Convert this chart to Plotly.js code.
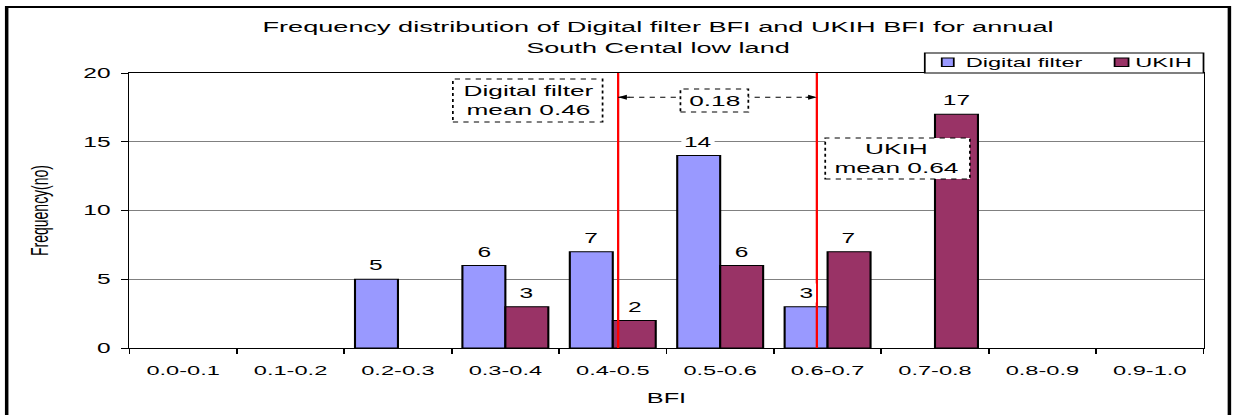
<!DOCTYPE html>
<html><head><meta charset="utf-8">
<script src="https://cdn.plot.ly/plotly-3.0.1.min.js"></script>
<style>
html,body{margin:0;padding:0;background:#fff;overflow:hidden}
#wrap{width:1235px;height:415px;overflow:hidden;position:relative}
#chart{width:706px;height:415px;transform:scaleX(1.74929);transform-origin:0 0}
</style></head><body><div id="wrap"><div id="chart"></div></div>
<script>
// ---- data ----
const categories = ['0.0-0.1','0.1-0.2','0.2-0.3','0.3-0.4','0.4-0.5','0.5-0.6','0.6-0.7','0.7-0.8','0.8-0.9','0.9-1.0'];
const digitalFilterFreq = [0, 0, 5, 6, 7, 14, 3, 0, 0, 0];
const ukihFreq = [0, 0, 0, 3, 2, 6, 7, 17, 0, 0];
const seriesNames = ['Digital filter', 'UKIH'];
const seriesColors = ['#9999FF', '#993366'];
const yTicks = [0, 5, 10, 15, 20];
const meanBFI = [0.455, 0.64];          // positions of the red mean lines (BFI)
const meanLabels = ['Digital filter<br>mean 0.46', 'UKIH<br>mean 0.64'];
const meanDifferenceLabel = '0.18';
const chartTitle = 'Frequency distribution of Digital filter BFI and UKIH BFI for annual<br>South Cental low land';

// ---- helpers ----
const FONT = 'Liberation Sans, Arial, sans-serif';
const binWidth = 0.1;
const bfiToIndex = b => b / binWidth - 0.5;   // category serial coordinate
const bargap = 0.2;
const barOffset = (1 - bargap) / 4;

const traces = [digitalFilterFreq, ukihFreq].map((vals, k) => ({
  type: 'bar',
  name: seriesNames[k],
  x: categories,
  y: vals.map(v => v === 0 ? null : v),
  marker: { color: seriesColors[k], line: { color: '#000', width: 1.2 } },
  hoverinfo: 'skip',
  showlegend: false
}));

const annotations = [];
[digitalFilterFreq, ukihFreq].forEach((vals, k) => {
  vals.forEach((v, i) => {
    if (v > 0) annotations.push({
      x: i + (k === 0 ? -barOffset : barOffset), y: v, xref: 'x', yref: 'y',
      text: String(v), showarrow: false, yanchor: 'middle', yshift: 14,
      bgcolor: '#fff', borderpad: 1, font: { family: FONT, size: 14, color: '#000' }
    });
  });
});

const x1 = bfiToIndex(meanBFI[0]);
const x2 = bfiToIndex(meanBFI[1]);
const arrowY = 18.23;

// mean label boxes (category-serial x, y units)
const boxes = [
  { x0: 2.511, x1: 3.905, y0: 16.44, y1: 19.56, tx: 3.208, ty: 18.0, text: meanLabels[0] },
  { x0: 4.630, x1: 5.262, y0: 17.16, y1: 18.84, tx: 4.946, ty: 17.98, text: meanDifferenceLabel },
  { x0: 5.978, x1: 7.325, y0: 12.29, y1: 15.27, tx: 6.647, ty: 13.78, text: meanLabels[1] }
];

const shapes = [];
// outer chart frame
shapes.push({ type: 'rect', xref: 'paper', yref: 'paper', x0: -0.1143, x1: 1.0241, y0: -0.35, y1: 1.24,
  line: { color: '#000', width: 2 }, fillcolor: 'rgba(0,0,0,0)', layer: 'above' });
// red mean lines
[x1, x2].forEach(xx => shapes.push({ type: 'line', xref: 'x', yref: 'paper', x0: xx, x1: xx, y0: 0, y1: 1,
  line: { color: '#FF0000', width: 1.3 }, layer: 'above' }));
// dotted difference arrow line
shapes.push({ type: 'line', xref: 'x', yref: 'y', x0: x1, x1: x2, y0: arrowY, y1: arrowY,
  line: { color: '#000', width: 1, dash: 'dot' }, layer: 'above' });
// dotted boxes
boxes.forEach(b => shapes.push({ type: 'rect', xref: 'x', yref: 'y', x0: b.x0, x1: b.x1, y0: b.y0, y1: b.y1,
  fillcolor: '#fff', line: { color: '#000', width: 1, dash: 'dot' }, layer: 'above' }));

boxes.forEach(b => annotations.push({ x: b.tx, y: b.ty, xref: 'x', yref: 'y', text: b.text, showarrow: false,
  font: { family: FONT, size: 15, color: '#000' } }));

// arrow heads
[[x2, -8], [x1, 8]].forEach(([xx, ax]) => annotations.push({
  x: xx, y: arrowY, xref: 'x', yref: 'y', text: '', showarrow: true, ax: ax, ay: 0,
  arrowhead: 2, arrowsize: 1, arrowwidth: 1, arrowcolor: '#000', standoff: 0, startstandoff: 0
}));

// legend (Excel style box above the plot's top-right corner)
const legendBox = { x0: 0.7405, x1: 1.0, y0: 1.0, y1: 1.0727 };
const legendItems = [
  { sx0: 0.7563, sx1: 0.7675, tx: 0.7745 },
  { sx0: 0.9172, sx1: 0.9302, tx: 0.9337 }
];
shapes.push({ type: 'rect', xref: 'paper', yref: 'paper', x0: legendBox.x0, x1: legendBox.x1, y0: legendBox.y0, y1: legendBox.y1,
  fillcolor: '#fff', line: { color: '#000', width: 1 }, layer: 'above' });
legendItems.forEach((it, k) => {
  shapes.push({ type: 'rect', xref: 'paper', yref: 'paper', x0: it.sx0, x1: it.sx1, y0: 1.0236, y1: 1.0545,
    fillcolor: seriesColors[k], line: { color: '#000', width: 1 }, layer: 'above' });
  annotations.push({ x: it.tx, y: 1.039, xref: 'paper', yref: 'paper', xanchor: 'left', yanchor: 'middle',
    text: seriesNames[k], showarrow: false, font: { family: FONT, size: 13.5, color: '#000' } });
});

const layout = {
  width: 706, height: 415,
  margin: { l: 73.7, r: 17.7, t: 73, b: 67, pad: 0 },
  paper_bgcolor: '#fff', plot_bgcolor: '#fff',
  font: { family: FONT, color: '#000' },
  title: { text: chartTitle, font: { family: FONT, size: 15.5, color: '#000' },
    x: 0.5328, xref: 'container', xanchor: 'center', y: 0.9217, yref: 'container', yanchor: 'middle' },
  barmode: 'group', bargap: bargap, bargroupgap: 0,
  showlegend: false,
  xaxis: {
    type: 'category', categoryorder: 'array', categoryarray: categories, range: [-0.5, categories.length - 0.5],
    ticks: 'outside', tickson: 'boundaries', ticklen: 5, tickcolor: '#000', tickwidth: 1,
    showline: true, linecolor: '#000', linewidth: 1, mirror: true, showgrid: false,
    tickfont: { family: FONT, size: 13.5, color: '#000' }, ticklabelstandoff: 10,
    title: { text: 'BFI', font: { family: FONT, size: 14.5, color: '#000' }, standoff: 15 },
    fixedrange: true
  },
  yaxis: {
    range: [0, 20], tickvals: yTicks, ticktext: yTicks.map(String),
    ticks: 'outside', ticklen: 4, tickcolor: '#000', tickwidth: 1,
    showline: true, linecolor: '#000', linewidth: 1, mirror: true,
    showgrid: true, gridcolor: '#808080', gridwidth: 1, zeroline: false,
    tickfont: { family: FONT, size: 14, color: '#000' }, ticklabelstandoff: 3,
    title: { text: 'Frequency(no)', font: { family: FONT, size: 14, color: '#000' }, standoff: 16 },
    fixedrange: true
  },
  shapes: shapes,
  annotations: annotations
};

Plotly.newPlot('chart', traces, layout, { displayModeBar: false, staticPlot: true });
</script></body></html>
